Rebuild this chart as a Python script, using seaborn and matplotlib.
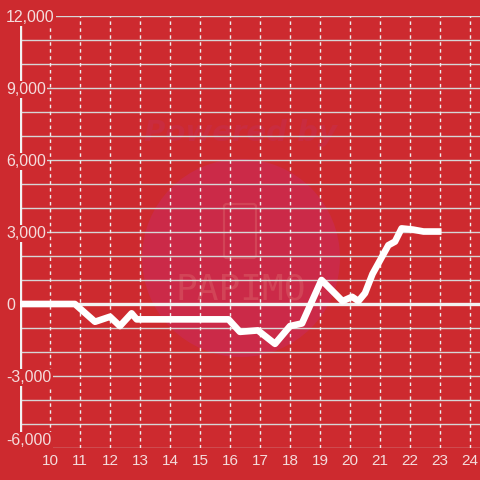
import matplotlib
matplotlib.use("Agg")
import matplotlib.pyplot as plt
import seaborn as sns
import pandas as pd
from matplotlib.patches import Ellipse, FancyBboxPatch

# Data
hours = [9.0, 10.83, 11.5, 12.0, 12.33, 12.72, 12.89, 15.95, 16.33, 16.93, 17.5,
         18.0, 18.4, 19.05, 19.75, 20.07, 20.28, 20.5, 20.75, 21.28, 21.5, 21.72,
         22.1, 22.45, 23.05]
values = [0, 0, -740, -530, -920, -390, -640, -640, -1160, -1100, -1660,
          -920, -810, 1000, 120, 300, 120, 450, 1250, 2450, 2600, 3150,
          3100, 3020, 3020]
x_ticks = list(range(10, 25))
y_ticks = [-6000, -3000, 0, 3000, 6000, 9000, 12000]
y_ticklabels = ["-6,000", "-3,000", "0", "3,000", "6,000", "9,000", "12,000"]

BG = "#cd2a2f"
TXT = "#f4dcdc"

df = pd.DataFrame({"hour": hours, "value": values})

fig = plt.figure(figsize=(4.8, 4.8), dpi=100, facecolor=BG)
ax = fig.add_axes([20 / 480, 32 / 480, 460 / 480, 432 / 480])
ax.set_facecolor(BG)
ax.set_xlim(9, 9 + 460 / 30)
ax.set_ylim(-6000, 12000)

def ax_xy(px, py):
    return ((px - 20) / 460, (448 - py) / 432)

# watermark
cx, cy = ax_xy(241, 258)
ax.add_patch(Ellipse((cx, cy), 198 / 460, 198 / 432, transform=ax.transAxes,
                     facecolor="#cb2a48", edgecolor="none", zorder=0.2, clip_on=False))
tx, ty = ax_xy(241, 133)
ax.text(tx, ty, "Powered by", transform=ax.transAxes, ha="center", va="center",
        fontsize=21, fontweight="bold", style="italic", color="#c92c3f", zorder=0.3)
tx, ty = ax_xy(241, 290)
ax.text(tx, ty, "PAPIMO", transform=ax.transAxes, ha="center", va="center",
        fontsize=26, family="DejaVu Sans Mono", color="#d24457", zorder=0.3)
lx, ly = ax_xy(224, 258)
ax.add_patch(FancyBboxPatch((lx, ly), 32 / 460, 54 / 432,
                            boxstyle="round,pad=0,rounding_size=0.006",
                            transform=ax.transAxes, facecolor="none",
                            edgecolor="#d24457", linewidth=1.6, zorder=0.3))

# grid
for v in range(-6000, 12001, 1000):
    ax.axhline(v, color="#d6d6d6", lw=1.0, zorder=1)
for h in x_ticks:
    ax.axvline(h, color="#eeeeee", lw=1.0, ls=(0, (2.5, 2.5)), zorder=1)
ax.axhline(0, color="#f2f2f2", lw=2.4, zorder=1.2)
ax.axvline(9.0, color="#f2f2f2", lw=2.4, zorder=1.2)

sns.lineplot(data=df, x="hour", y="value", ax=ax, color="white", lw=4.8,
             sort=False, estimator=None, zorder=3)
ax.lines[-1].set_solid_joinstyle("round")
ax.lines[-1].set_solid_capstyle("butt")

for s in ax.spines.values():
    s.set_visible(False)

ax.set_xticks(x_ticks)
ax.set_xticklabels([str(t) for t in x_ticks])
ax.set_yticks(y_ticks)
ax.set_yticklabels(y_ticklabels)
ax.tick_params(axis="x", length=0, pad=4.5, labelsize=11, labelcolor=TXT)
ax.tick_params(axis="y", length=0, pad=14 * 0.72, labelsize=11.5, labelcolor=TXT)
for lbl in ax.get_yticklabels():
    lbl.set_ha("left")
    lbl.set_bbox(dict(facecolor=BG, edgecolor="none", pad=1.0))
ax.get_yticklabels()[0].set_va("bottom")
ax.yaxis.set_zorder(5)
ax.set_xlabel("")
ax.set_ylabel("")
for lbl in ax.get_xticklabels() + ax.get_yticklabels():
    lbl.set_family("Liberation Sans")

fig.savefig("out.png", dpi=100, facecolor=BG)
